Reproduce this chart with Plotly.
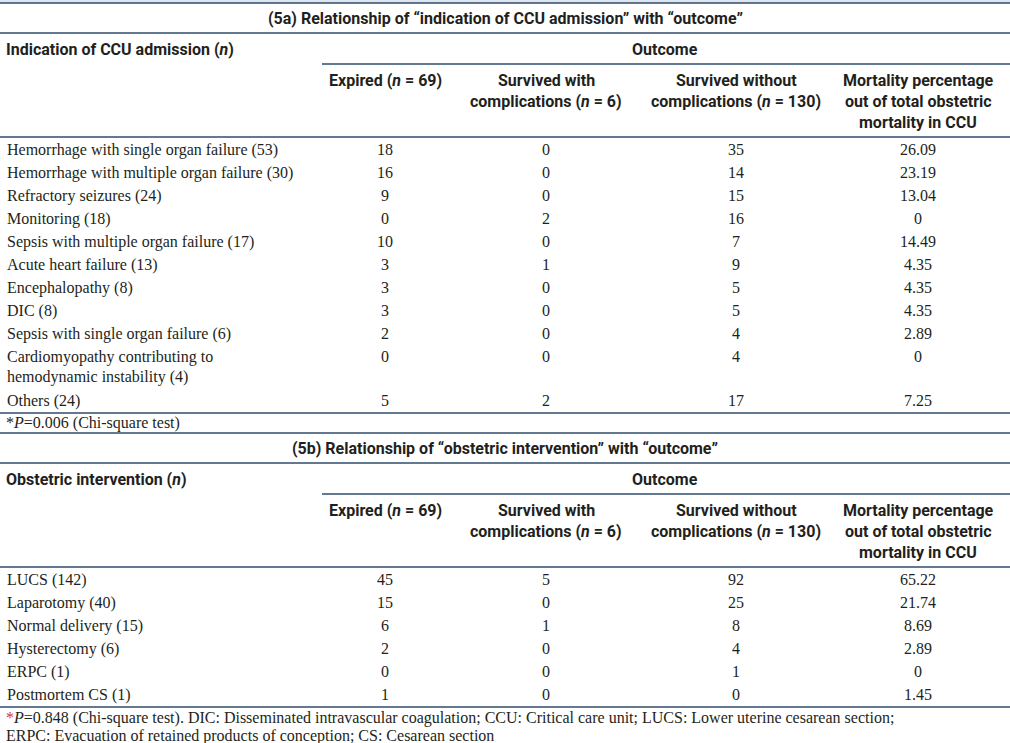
import plotly.graph_objects as go

# ---------------- data ----------------
title_a = "(5a) Relationship of “indication of CCU admission” with “outcome”"
title_b = "(5b) Relationship of “obstetric intervention” with “outcome”"
rowhead_a = "Indication of CCU admission (<i>n</i>)"
rowhead_b = "Obstetric intervention (<i>n</i>)"
outcome_label = "Outcome"
col_headers = [
    ["Expired (<i>n</i> = 69)"],
    ["Survived with", "complications (<i>n</i> = 6)"],
    ["Survived without", "complications (<i>n</i> = 130)"],
    ["Mortality percentage", "out of total obstetric", "mortality in CCU"],
]

labels_a = [
    "Hemorrhage with single organ failure (53)",
    "Hemorrhage with multiple organ failure (30)",
    "Refractory seizures (24)",
    "Monitoring (18)",
    "Sepsis with multiple organ failure (17)",
    "Acute heart failure (13)",
    "Encephalopathy (8)",
    "DIC (8)",
    "Sepsis with single organ failure (6)",
    "Cardiomyopathy contributing to<br>hemodynamic instability (4)",
    "Others (24)",
]
expired_a = [18, 16, 9, 0, 10, 3, 3, 3, 2, 0, 5]
surv_comp_a = [0, 0, 0, 2, 0, 1, 0, 0, 0, 0, 2]
surv_nocomp_a = [35, 14, 15, 16, 7, 9, 5, 5, 4, 4, 17]
mort_pct_a = [26.09, 23.19, 13.04, 0, 14.49, 4.35, 4.35, 4.35, 2.89, 0, 7.25]

labels_b = [
    "LUCS (142)",
    "Laparotomy (40)",
    "Normal delivery (15)",
    "Hysterectomy (6)",
    "ERPC (1)",
    "Postmortem CS (1)",
]
expired_b = [45, 15, 6, 2, 0, 1]
surv_comp_b = [5, 0, 1, 0, 0, 0]
surv_nocomp_b = [92, 25, 8, 4, 1, 0]
mort_pct_b = [65.22, 21.74, 8.69, 2.89, 0, 1.45]

foot_a = ["*<i>P</i>=0.006 (Chi-square test)"]
foot_b = [
    "<span style='color:#e0303a'>*</span><i>P</i>=0.848 (Chi-square test). DIC: Disseminated intravascular coagulation; "
    "CCU: Critical care unit; LUCS: Lower uterine cesarean section;",
    "ERPC: Evacuation of retained products of conception; CS: Cesarean section",
]

# ---------------- style / layout ----------------
W, H = 1010, 743
TXT = "#231f20"
LINE = "#2f4b6c"
HEAD_FONT = dict(family="Roboto, Liberation Sans, Arial, sans-serif", size=16, color=TXT)
BODY_FONT = dict(family="Liberation Serif, Times New Roman, serif", size=16, color=TXT)
col_x = [385, 546, 736, 918]
label_x = 7
ROW = 23
SUBLINE = 20
HEAD_LINE = 21

fig = go.Figure()
shapes = []
anns = []


def hline(y, x0=0, x1=W, w=1.5):
    shapes.append(dict(type="line", xref="x", yref="y", x0=x0, x1=x1, y0=y, y1=y,
                       line=dict(color=LINE, width=w)))


def text(x, y, t, font, anchor="left"):
    anns.append(dict(x=x, y=y, text=t, showarrow=False, xanchor=anchor,
                     yanchor="middle", font=font, borderpad=0))


def fmt(v):
    return f"{v:g}"


def section(top, title, rowhead, labels, cols):
    text(W / 2, top + 15, "<b>" + title + "</b>", HEAD_FONT, "center")
    hline(top + 30)
    text(label_x - 2, top + 46, "<b>" + rowhead + "</b>", HEAD_FONT)
    text(665, top + 46, "<b>" + outcome_label + "</b>", HEAD_FONT, "center")
    hline(top + 61, x0=322)
    for cx, lines in zip(col_x, col_headers):
        for k, ln in enumerate(lines):
            text(cx, top + 77 + k * HEAD_LINE, "<b>" + ln + "</b>", HEAD_FONT, "center")
    hline(top + 134)
    # data rows
    ys = []
    y = top + 148
    for lab in labels:
        ys.append(y)
        nlines = lab.count("<br>") + 1
        y += ROW + (nlines - 1) * (SUBLINE + 1)
    lab_x, lab_y, lab_t = [], [], []
    for lab, yy in zip(labels, ys):
        for k, part in enumerate(lab.split("<br>")):
            lab_x.append(label_x)
            lab_y.append(yy + k * SUBLINE)
            lab_t.append(part)
    fig.add_trace(go.Scatter(x=lab_x, y=lab_y, text=lab_t, mode="text",
                             textposition="middle right", textfont=BODY_FONT,
                             hoverinfo="skip", showlegend=False))
    for cx, vals in zip(col_x, cols):
        fig.add_trace(go.Scatter(x=[cx] * len(vals), y=ys, text=[fmt(v) for v in vals],
                                 mode="text", textposition="middle center", textfont=BODY_FONT,
                                 hoverinfo="skip", showlegend=False))
    return y - ROW + 11


# top band
shapes.append(dict(type="rect", xref="x", yref="y", x0=0, x1=W, y0=0, y1=3,
                   fillcolor="#dfe6f0", line=dict(width=0), layer="below"))
hline(3)
b1 = section(3, title_a, rowhead_a, labels_a, [expired_a, surv_comp_a, surv_nocomp_a, mort_pct_a])
hline(b1)
for k, ln in enumerate(foot_a):
    text(label_x - 2, b1 + 10, ln, BODY_FONT)
hline(b1 + 20)
b2 = section(b1 + 20, title_b, rowhead_b, labels_b, [expired_b, surv_comp_b, surv_nocomp_b, mort_pct_b])
hline(b2)
for k, ln in enumerate(foot_b):
    text(label_x - 2, b2 + 11 + k * 18, ln, BODY_FONT)

fig.update_layout(
    width=W, height=H,
    margin=dict(l=0, r=0, t=0, b=0),
    paper_bgcolor="white", plot_bgcolor="white",
    xaxis=dict(range=[0, W], visible=False, fixedrange=True),
    yaxis=dict(range=[H, 0], visible=False, fixedrange=True),
    shapes=shapes, annotations=anns,
)
fig.write_html("out.html", config={"displayModeBar": False},
               post_script="document.body.style.margin='0px';document.body.style.padding='0px';")
